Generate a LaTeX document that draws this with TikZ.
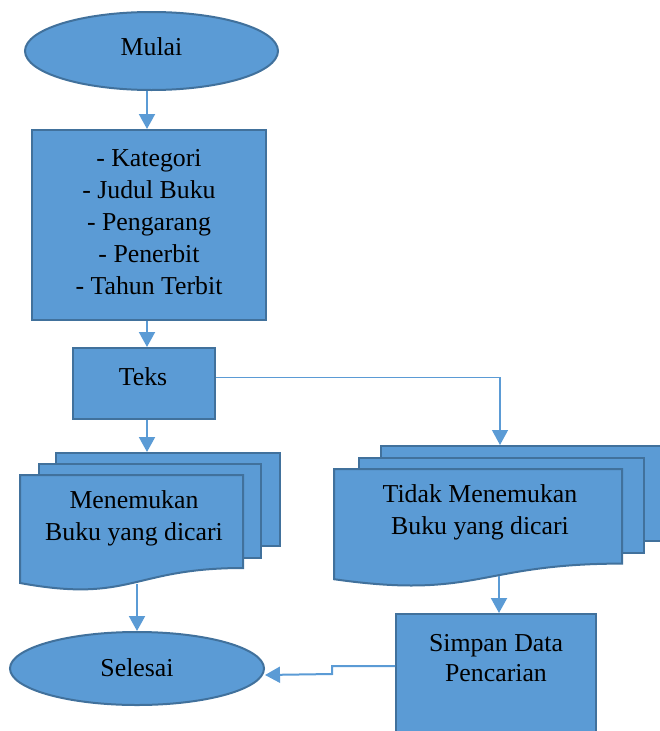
\documentclass[tikz,border=0pt]{standalone}
\usepackage{fontspec}
\setmainfont{Liberation Serif}
\usetikzlibrary{arrows.meta,shapes.geometric,calc}
\definecolor{bfill}{HTML}{5B9BD5}
\definecolor{bline}{HTML}{41719C}
\begin{document}
\begin{tikzpicture}[x=1pt,y=-1pt,
  shp/.style={fill=bfill,draw=bline,line width=2pt,inner sep=0pt},
  txt/.style={font=\fontsize{25.8}{32}\selectfont,align=center,inner sep=0pt,text=black},
  arr/.style={draw=bfill,line width=2pt,-{Triangle[width=16pt,length=15pt]}},
  thinarr/.style={draw=bfill,line width=1.2pt,-{Triangle[width=16pt,length=15pt]}}
]
\useasboundingbox (0,0) rectangle (660,731);
% Mulai
\node[shp,ellipse,minimum width=253pt,minimum height=78pt] (mulai) at (151.5,51) {};
\node[txt,anchor=base] (tmulai) at (151.5,55) {Mulai};
% input box
\node[shp,rectangle,minimum width=234pt,minimum height=190pt] (input) at (149,225) {};
\node[txt] (tinput) at (149,222) {- Kategori\\- Judul Buku\\- Pengarang\\- Penerbit\\- Tahun Terbit};
% Teks
\node[shp,rectangle,minimum width=142pt,minimum height=71pt] (teks) at (144,383.5) {};
\node[txt,anchor=base] (tteks) at (143,385) {Teks};
% left multidocument
\node[shp,rectangle,minimum width=224pt,minimum height=93pt,anchor=north west] (lback) at (55,452) {};
\node[shp,rectangle,minimum width=222pt,minimum height=94pt,anchor=north west] (lmid) at (38,463) {};
\draw[shp] (20,475) -- (243,475) -- (243,568) .. controls (131.5,568) and (131.5,603.5) .. (20,583) -- cycle;
\coordinate (lfrontbot) at (137,584);
\node[txt] (tleft) at (134,518) {Menemukan\\Buku yang dicari};
% right multidocument
\node[shp,rectangle,minimum width=290pt,minimum height=95pt,anchor=north west] (rback) at (380,445) {};
\node[shp,rectangle,minimum width=285pt,minimum height=95pt,anchor=north west] (rmid) at (358,457) {};
\draw[shp] (334,469) -- (622,469) -- (622,563.6) .. controls (478,563.6) and (478,599.7) .. (334,579.2) -- cycle;
\coordinate (rfrontbot) at (499,576);
\node[txt] (tright) at (480,512) {Tidak Menemukan\\Buku yang dicari};
% Simpan
\node[shp,rectangle,minimum width=200pt,minimum height=131pt] (simpan) at (496,679.5) {};
\node[txt,font=\fontsize{25.8}{30}\selectfont] (tsimpan) at (496,658) {Simpan Data\\Pencarian};
% Selesai
\node[shp,ellipse,minimum width=254pt,minimum height=73pt] (selesai) at (137,668.5) {};
\node[txt,anchor=base] (tselesai) at (137,676) {Selesai};
% connectors
\coordinate (cx) at (147,0);
\draw[arr] (mulai.south -| cx) -- (input.north -| cx);
\draw[arr] (input.south -| cx) -- (teks.north -| cx);
\draw[arr] (teks.south -| cx) -- (lback.north -| cx);
\draw[thinarr] ($(teks.east)+(0,-6)$) -- (500,377.5) -- (rback.north -| 500,0);
\draw[arr] (lfrontbot) -- (selesai.north -| lfrontbot);
\draw[arr] (rfrontbot) -- (simpan.north -| rfrontbot);
\draw[arr] ($(simpan.north west)+(0,53)$) -- ++(-63,0) -- ++(0,8) -- (selesai.east |- 0,675);
\end{tikzpicture}
\end{document}
